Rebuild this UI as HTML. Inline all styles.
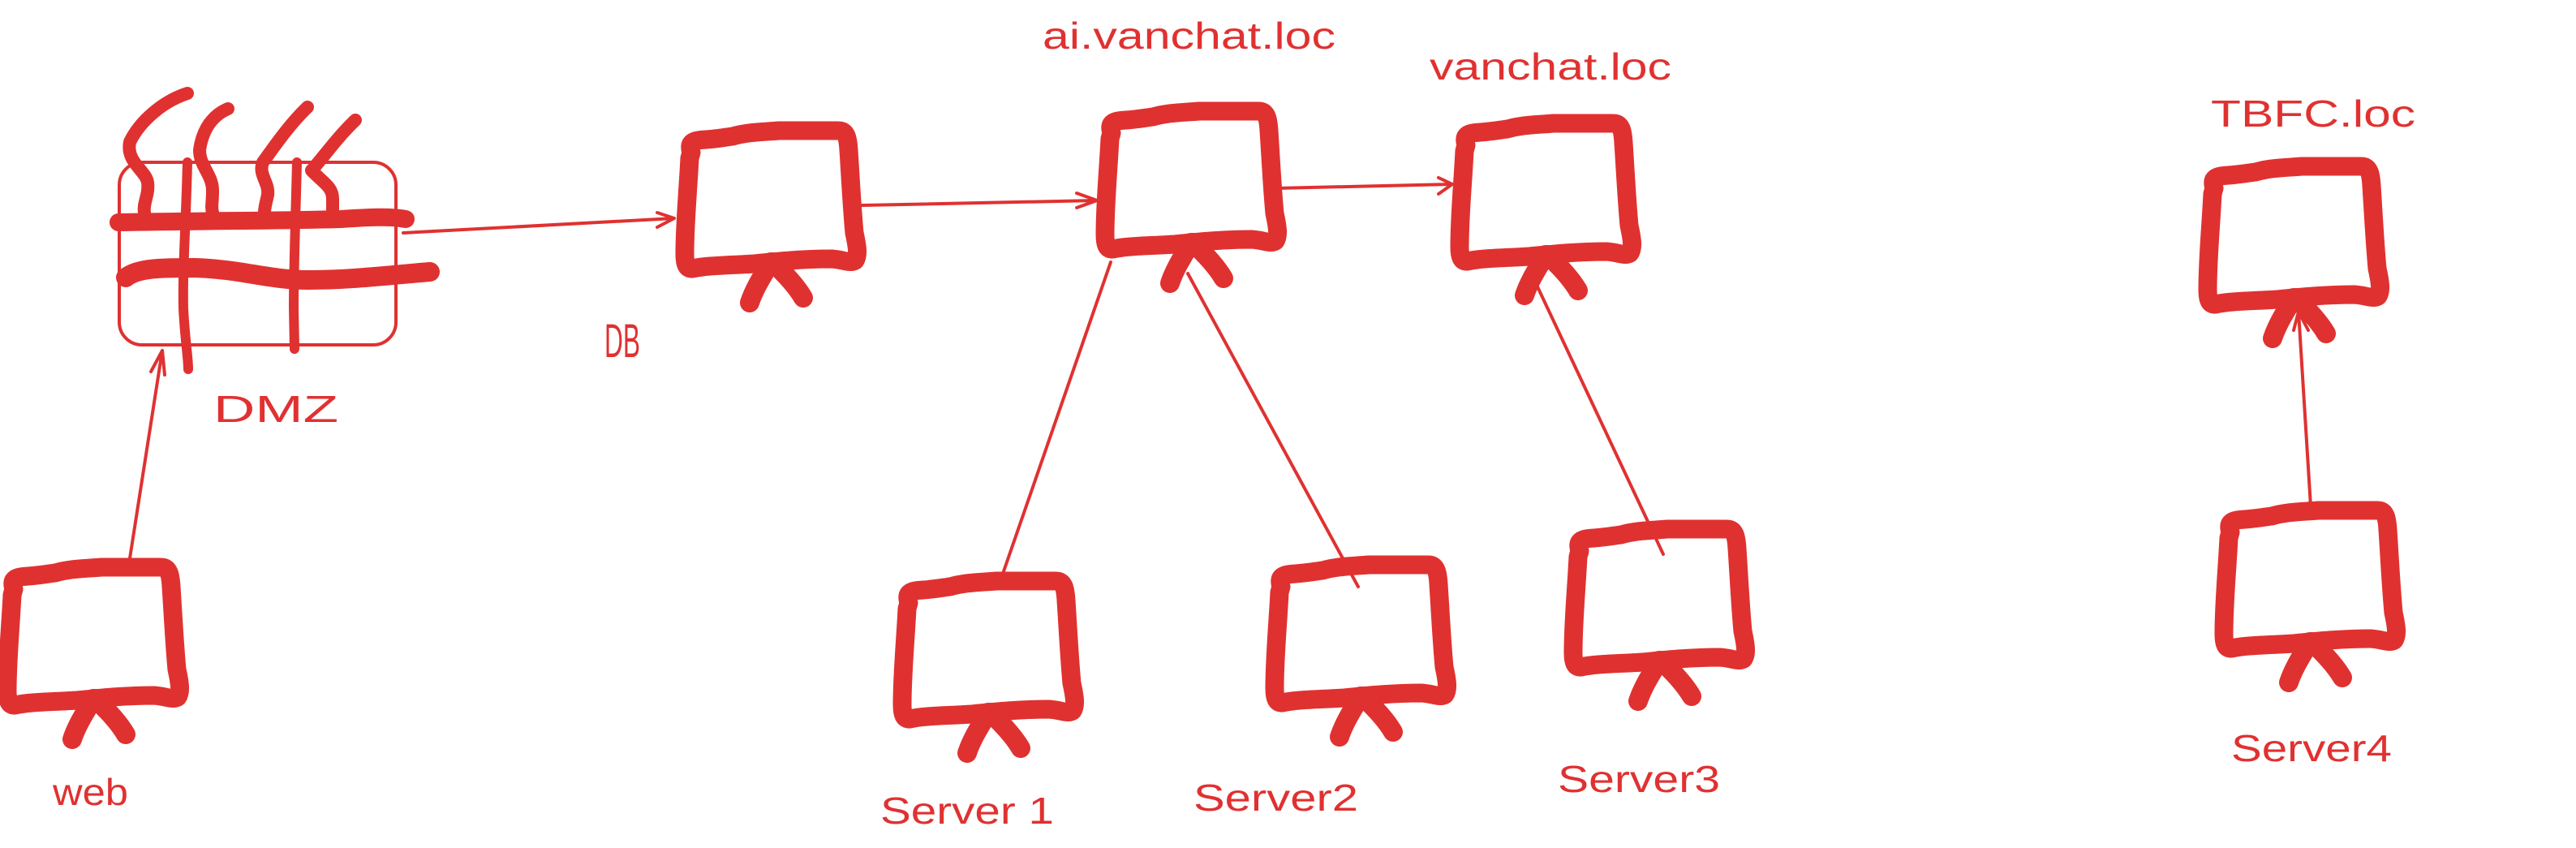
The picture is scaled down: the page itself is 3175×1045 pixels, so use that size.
<!DOCTYPE html>
<html><head><meta charset="utf-8"><style>
html,body{margin:0;padding:0;background:#fff;}
svg{display:block}
text{font-family:"Liberation Sans",sans-serif;fill:#e03131;}
</style></head><body>
<svg width="3175" height="1045" viewBox="0 0 3175 1045" xmlns="http://www.w3.org/2000/svg">
<defs>
<g id="mon" fill="none" stroke="#e03131" stroke-linecap="round" stroke-linejoin="round">
<path stroke-width="23" d="M12,33 C8,20 14,18 30,17 C45,16 55,14 63,13 C80,8 95,8 120,6 L193,6 C203,6 205,14 206,30 C208,60 210,100 213,132 C217,150 218,160 214,166 C208,170 200,165 185,164 C150,164 120,167 90,170 C60,172 30,172 14,176 C6,177 4,170 4,158 C4,120 8,80 10,40 Z"/>
<path stroke-width="24" d="M110,168 C100,185 90,200 84,218 M112,168 C125,180 140,195 150,212"/>
</g>
</defs>
<g fill="none" stroke="#e03131" stroke-linecap="round" stroke-linejoin="round">
<rect x="147" y="200" width="341" height="225" rx="28" stroke-width="4"/>
<path stroke-width="22" d="M146,274 C250,272 350,272 420,270 C450,268 480,266 500,270"/>
<path stroke-width="24" d="M155,342 C170,330 200,330 240,330 C300,332 330,345 380,345 C430,345 470,340 530,335"/>
<path stroke-width="12" d="M231,200 C229,280 225,330 226,380 C228,420 232,440 232,455"/>
<path stroke-width="12" d="M366,200 C364,280 362,330 362,380 L363,430"/>
<path stroke-width="16" d="M231,115 C200,125 172,150 160,175 C155,200 180,210 182,225 C184,240 176,250 178,262"/>
<path stroke-width="16" d="M281,134 C255,145 248,170 246,185 C246,205 262,215 262,235 C262,250 260,255 262,262"/>
<path stroke-width="16" d="M379,132 C355,155 335,185 324,200 C318,215 332,225 330,240 C328,250 326,255 326,262"/>
<path stroke-width="16" d="M438,148 C415,170 400,192 384,210 C398,225 410,230 410,245 L410,262"/>
<g stroke-width="4">
<path d="M160,688 L200,432 M186,458 L200,432 L203,462"/>
<path d="M497,287 L831,269 M810,262 L831,269 L810,280"/>
<path d="M1063,253 L1352,247 M1327,238 L1352,247 L1327,256"/>
<path d="M1573,232 L1790,227 M1773,219 L1790,227 L1773,239"/>
<path d="M1369,323 L1236,707 M1222,887 L1197,923"/>
<path d="M1464,337 L1674,723"/>
<path d="M1892,347 L2050,683"/>
<path d="M2848,624 L2833,384 M2827,407 L2833,384 L2845,407"/>
</g>
</g>
<use href="#mon" x="840" y="155"/>
<use href="#mon" x="1358" y="131"/>
<use href="#mon" x="1795" y="146"/>
<use href="#mon" x="2717" y="199"/>
<use href="#mon" x="2737" y="623"/>
<use href="#mon" x="5" y="693"/>
<use href="#mon" x="1108" y="710"/>
<use href="#mon" x="1567" y="690"/>
<use href="#mon" x="1935" y="646"/>
<g font-size="46">
<text x="1285" y="60" textLength="361" lengthAdjust="spacingAndGlyphs">ai.vanchat.loc</text>
<text x="1762" y="98" textLength="298" lengthAdjust="spacingAndGlyphs">vanchat.loc</text>
<text x="2725" y="156" textLength="252" lengthAdjust="spacingAndGlyphs">TBFC.loc</text>
<text x="1085" y="1015" textLength="214" lengthAdjust="spacingAndGlyphs">Server 1</text>
<text x="1471" y="999" textLength="203" lengthAdjust="spacingAndGlyphs">Server2</text>
<text x="1920" y="976" textLength="200" lengthAdjust="spacingAndGlyphs">Server3</text>
<text x="2750" y="938" textLength="198" lengthAdjust="spacingAndGlyphs">Server4</text>
<text x="65" y="992" textLength="93" lengthAdjust="spacingAndGlyphs">web</text>
<text x="745" y="440" font-size="58" textLength="44" lengthAdjust="spacingAndGlyphs">DB</text>
<text x="263" y="520" textLength="154" lengthAdjust="spacingAndGlyphs">DMZ</text>
</g>
</svg>
</body></html>
